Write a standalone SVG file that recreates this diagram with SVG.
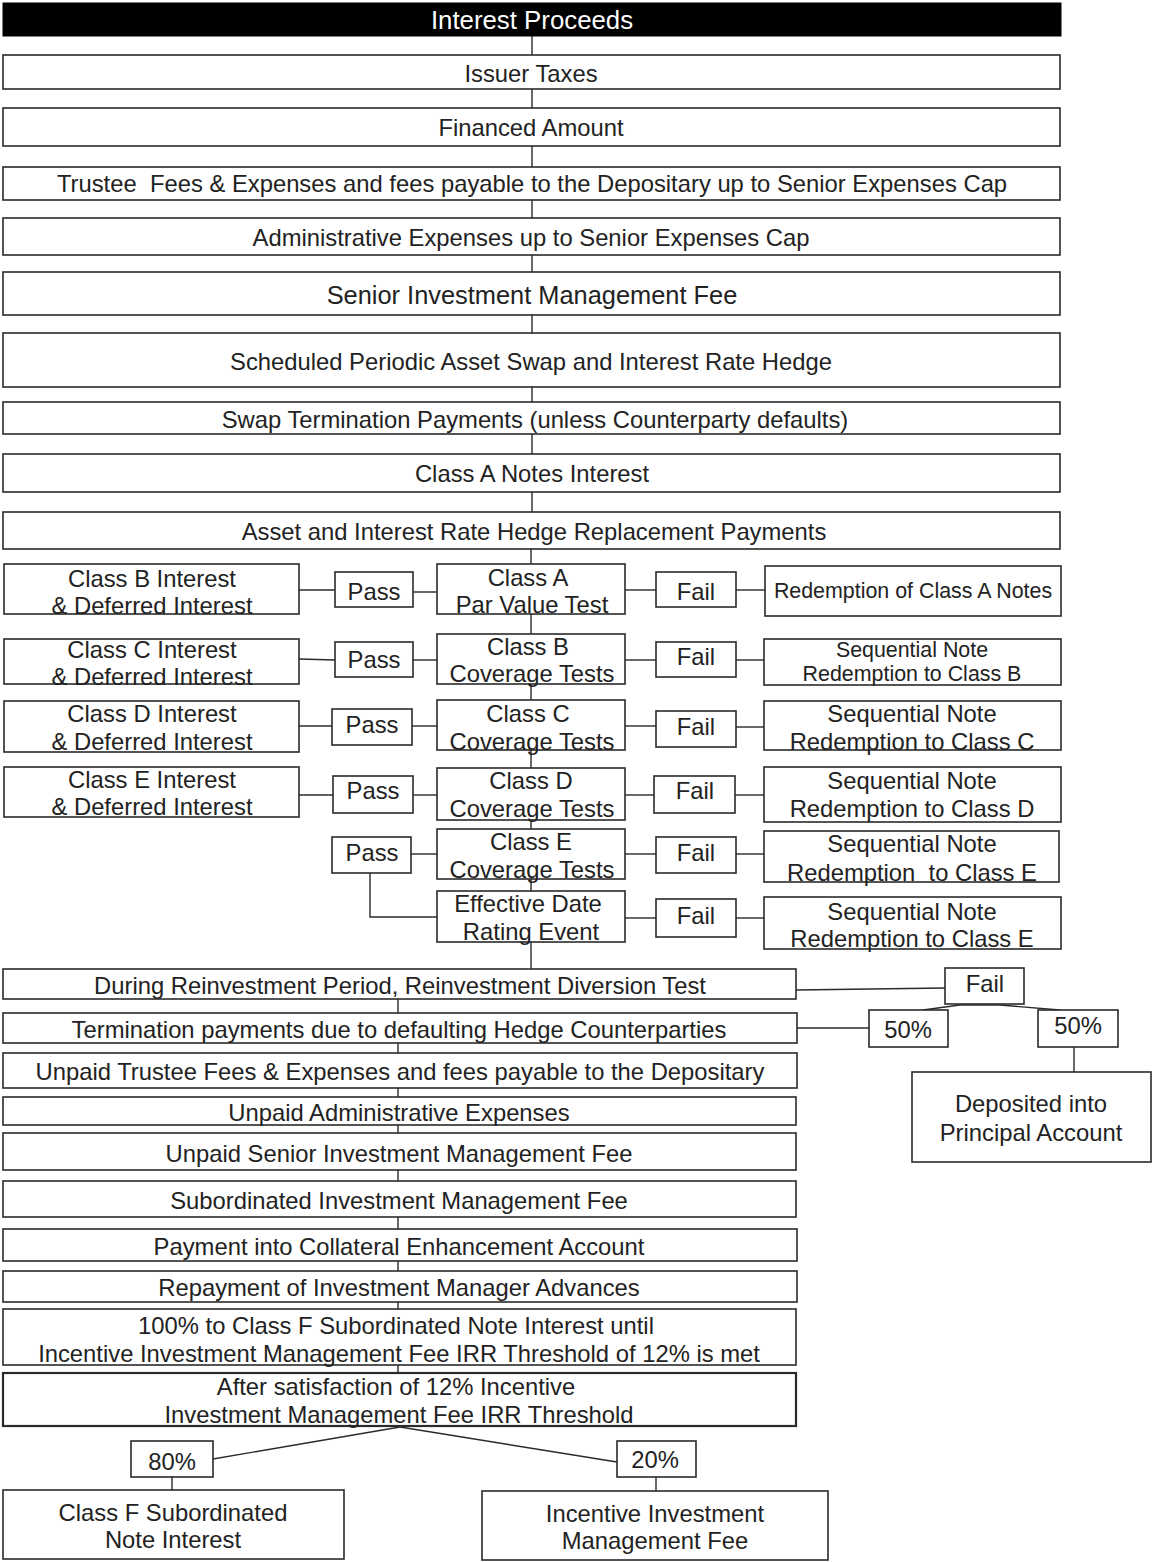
<svg xmlns="http://www.w3.org/2000/svg" width="1152" height="1562" viewBox="0 0 1152 1562">
<style>
rect.b{fill:#fff;stroke:#2a2a2a;stroke-width:1.6}
rect.k{fill:#000;stroke:#000}
text{font-family:"Liberation Sans",Arial,sans-serif;font-size:23.8px;fill:#222;text-anchor:middle;dominant-baseline:central}
text.w{fill:#fff;font-size:25.8px}
text.l{font-size:25.4px}
text.s{font-size:21.4px}
#connectors line,#connectors polyline{stroke:#2a2a2a;stroke-width:1.4;fill:none}
</style>
<rect width="1152" height="1562" fill="#fff"/>
<g id="connectors">
<line x1="532" y1="36" x2="532" y2="549"/>
<line x1="531" y1="549" x2="531" y2="969"/>
<line x1="299" y1="590" x2="335" y2="590"/>
<line x1="413" y1="592" x2="437" y2="592"/>
<line x1="625" y1="590" x2="656" y2="590"/>
<line x1="736" y1="590" x2="765" y2="590"/>
<line x1="299" y1="659" x2="335" y2="660"/>
<line x1="413" y1="660" x2="437" y2="660"/>
<line x1="625" y1="660" x2="656" y2="660"/>
<line x1="736" y1="660" x2="764" y2="660"/>
<line x1="299" y1="726" x2="332" y2="726"/>
<line x1="412" y1="726" x2="437" y2="726"/>
<line x1="625" y1="726" x2="656" y2="726"/>
<line x1="736" y1="727" x2="764" y2="727"/>
<line x1="299" y1="795" x2="333" y2="795"/>
<line x1="413" y1="795" x2="437" y2="795"/>
<line x1="625" y1="795" x2="654" y2="795"/>
<line x1="735" y1="795" x2="764" y2="795"/>
<line x1="411" y1="854" x2="437" y2="854"/>
<line x1="625" y1="854" x2="656" y2="854"/>
<line x1="736" y1="854" x2="764" y2="854"/>
<polyline points="370,873 370,917 437,917"/>
<line x1="625" y1="918" x2="656" y2="918"/>
<line x1="736" y1="918" x2="764" y2="918"/>
<line x1="398" y1="999" x2="398" y2="1373"/>
<line x1="796" y1="990" x2="945" y2="988"/>
<line x1="797" y1="1028" x2="869" y2="1028"/>
<polyline points="923,1010 960,1005 1000,1005 1060,1010"/>
<line x1="1074" y1="1047" x2="1074" y2="1072"/>
<line x1="400" y1="1427" x2="213" y2="1459"/>
<line x1="400" y1="1427" x2="617" y2="1462"/>
<line x1="172" y1="1477" x2="172" y2="1490"/>
<line x1="656" y1="1477" x2="656" y2="1491"/>
</g>
<g id="n-interest-proceeds"><rect class="k" x="3" y="3" width="1058" height="33"/><text class="w" x="532" y="20">Interest Proceeds</text></g>
<g id="n-issuer-taxes"><rect class="b" x="3" y="55" width="1057" height="34"/><text x="531" y="73">Issuer Taxes</text></g>
<g id="n-financed"><rect class="b" x="3" y="108" width="1057" height="38"/><text x="531" y="127">Financed Amount</text></g>
<g id="n-trustee"><rect class="b" x="3" y="167" width="1057" height="33"/><text x="532" y="183" xml:space="preserve">Trustee  Fees &amp; Expenses and fees payable to the Depositary up to Senior Expenses Cap</text></g>
<g id="n-admin"><rect class="b" x="3" y="218" width="1057" height="37"/><text x="531" y="237">Administrative Expenses up to Senior Expenses Cap</text></g>
<g id="n-senior-fee"><rect class="b" x="3" y="272" width="1057" height="43"/><text class="l" x="532" y="295">Senior Investment Management Fee</text></g>
<g id="n-scheduled"><rect class="b" x="3" y="333" width="1057" height="54"/><text x="531" y="361">Scheduled Periodic Asset Swap and Interest Rate Hedge</text></g>
<g id="n-swap-term"><rect class="b" x="3" y="402" width="1057" height="32"/><text x="535" y="419">Swap Termination Payments (unless Counterparty defaults)</text></g>
<g id="n-class-a-interest"><rect class="b" x="3" y="454" width="1057" height="38"/><text x="532" y="473">Class A Notes Interest</text></g>
<g id="n-hedge-replacement"><rect class="b" x="3" y="512" width="1057" height="37"/><text x="534" y="531">Asset and Interest Rate Hedge Replacement Payments</text></g>

<g id="n-classb-int"><rect class="b" x="4" y="564" width="295" height="50"/><text x="152" y="578">Class B Interest</text><text x="152" y="605">&amp; Deferred Interest</text></g>
<g id="n-pass1"><rect class="b" x="335" y="572" width="78" height="35"/><text x="374" y="591">Pass</text></g>
<g id="n-classa-par"><rect class="b" x="437" y="564" width="188" height="50"/><text x="528" y="577">Class A</text><text x="532" y="604">Par Value Test</text></g>
<g id="n-fail1"><rect class="b" x="656" y="572" width="80" height="35"/><text x="696" y="591">Fail</text></g>
<g id="n-redeem-a"><rect class="b" x="765" y="566" width="296" height="50"/><text class="s" x="913" y="591">Redemption of Class A Notes</text></g>

<g id="n-classc-int"><rect class="b" x="4" y="639" width="295" height="45"/><text x="152" y="649">Class C Interest</text><text x="152" y="676">&amp; Deferred Interest</text></g>
<g id="n-pass2"><rect class="b" x="335" y="642" width="78" height="35"/><text x="374" y="659">Pass</text></g>
<g id="n-classb-cov"><rect class="b" x="437" y="634" width="188" height="50"/><text x="528" y="646">Class B</text><text x="532" y="673">Coverage Tests</text></g>
<g id="n-fail2"><rect class="b" x="656" y="642" width="80" height="35"/><text x="696" y="656">Fail</text></g>
<g id="n-seq-b"><rect class="b" x="764" y="639" width="297" height="46"/><text class="s" x="912" y="650">Sequential Note</text><text class="s" x="912" y="674">Redemption to Class B</text></g>

<g id="n-classd-int"><rect class="b" x="4" y="701" width="295" height="51"/><text x="152" y="713">Class D Interest</text><text x="152" y="741">&amp; Deferred Interest</text></g>
<g id="n-pass3"><rect class="b" x="332" y="709" width="80" height="36"/><text x="372" y="724">Pass</text></g>
<g id="n-classc-cov"><rect class="b" x="437" y="700" width="188" height="50"/><text x="528" y="713">Class C</text><text x="532" y="741">Coverage Tests</text></g>
<g id="n-fail3"><rect class="b" x="656" y="711" width="80" height="36"/><text x="696" y="726">Fail</text></g>
<g id="n-seq-c"><rect class="b" x="764" y="701" width="297" height="49"/><text x="912" y="713">Sequential Note</text><text x="912" y="741">Redemption to Class C</text></g>

<g id="n-classe-int"><rect class="b" x="4" y="767" width="295" height="50"/><text x="152" y="779">Class E Interest</text><text x="152" y="806">&amp; Deferred Interest</text></g>
<g id="n-pass4"><rect class="b" x="333" y="776" width="80" height="37"/><text x="373" y="790">Pass</text></g>
<g id="n-classd-cov"><rect class="b" x="437" y="768" width="188" height="52"/><text x="531" y="780">Class D</text><text x="532" y="808">Coverage Tests</text></g>
<g id="n-fail4"><rect class="b" x="654" y="776" width="81" height="37"/><text x="695" y="790">Fail</text></g>
<g id="n-seq-d"><rect class="b" x="764" y="767" width="297" height="55"/><text x="912" y="780">Sequential Note</text><text x="912" y="808">Redemption to Class D</text></g>

<g id="n-pass5"><rect class="b" x="332" y="837" width="79" height="36"/><text x="372" y="852">Pass</text></g>
<g id="n-classe-cov"><rect class="b" x="437" y="829" width="188" height="50"/><text x="531" y="841">Class E</text><text x="532" y="869">Coverage Tests</text></g>
<g id="n-fail5"><rect class="b" x="656" y="837" width="80" height="36"/><text x="696" y="852">Fail</text></g>
<g id="n-seq-e"><rect class="b" x="764" y="831" width="295" height="51"/><text x="912" y="843">Sequential Note</text><text x="912" y="872" xml:space="preserve">Redemption  to Class E</text></g>

<g id="n-effective-date"><rect class="b" x="437" y="891" width="188" height="51"/><text x="528" y="903">Effective Date</text><text x="531" y="931">Rating Event</text></g>
<g id="n-fail6"><rect class="b" x="656" y="899" width="80" height="38"/><text x="696" y="915">Fail</text></g>
<g id="n-seq-e2"><rect class="b" x="764" y="897" width="297" height="52"/><text x="912" y="911">Sequential Note</text><text x="912" y="938">Redemption to Class E</text></g>

<g id="n-reinvest-div"><rect class="b" x="3" y="969" width="793" height="30"/><text x="400" y="985">During Reinvestment Period, Reinvestment Diversion Test</text></g>
<g id="n-term-default"><rect class="b" x="3" y="1013" width="794" height="30"/><text x="399" y="1029">Termination payments due to defaulting Hedge Counterparties</text></g>
<g id="n-unpaid-trustee"><rect class="b" x="3" y="1053" width="794" height="35"/><text x="400" y="1071">Unpaid Trustee Fees &amp; Expenses and fees payable to the Depositary</text></g>
<g id="n-unpaid-admin"><rect class="b" x="3" y="1097" width="793" height="28"/><text x="399" y="1112">Unpaid Administrative Expenses</text></g>
<g id="n-unpaid-senior"><rect class="b" x="3" y="1133" width="793" height="37"/><text x="399" y="1153">Unpaid Senior Investment Management Fee</text></g>
<g id="n-sub-fee"><rect class="b" x="3" y="1181" width="793" height="36"/><text x="399" y="1200">Subordinated Investment Management Fee</text></g>
<g id="n-collateral"><rect class="b" x="3" y="1229" width="794" height="32"/><text x="399" y="1246">Payment into Collateral Enhancement Account</text></g>
<g id="n-repayment"><rect class="b" x="3" y="1271" width="794" height="31"/><text x="399" y="1287">Repayment of Investment Manager Advances</text></g>
<g id="n-class-f-until"><rect class="b" x="3" y="1309" width="793" height="56"/><text x="396" y="1325">100% to Class F Subordinated Note Interest until</text><text x="399" y="1353">Incentive Investment Management Fee IRR Threshold of 12% is met</text></g>
<g id="n-after"><rect class="b" x="3" y="1373" width="793" height="53" style="stroke-width:2.2"/><text x="396" y="1386">After satisfaction of 12% Incentive</text><text x="399" y="1414">Investment Management Fee IRR Threshold</text></g>

<g id="n-fail7"><rect class="b" x="945" y="968" width="79" height="36"/><text x="985" y="983">Fail</text></g>
<g id="n-50a"><rect class="b" x="869" y="1010" width="79" height="37"/><text x="908" y="1029">50%</text></g>
<g id="n-50b"><rect class="b" x="1038" y="1010" width="80" height="37"/><text x="1078" y="1025">50%</text></g>
<g id="n-deposited"><rect class="b" x="912" y="1072" width="239" height="90"/><text x="1031" y="1103">Deposited into</text><text x="1031" y="1132">Principal Account</text></g>

<g id="n-80"><rect class="b" x="131" y="1441" width="82" height="36"/><text x="172" y="1461">80%</text></g>
<g id="n-20"><rect class="b" x="617" y="1441" width="79" height="36"/><text x="655" y="1459">20%</text></g>
<g id="n-class-f"><rect class="b" x="3" y="1490" width="341" height="69"/><text x="173" y="1512">Class F Subordinated</text><text x="173" y="1539">Note Interest</text></g>
<g id="n-incentive"><rect class="b" x="482" y="1491" width="346" height="69"/><text x="655" y="1513">Incentive Investment</text><text x="655" y="1540">Management Fee</text></g>
</svg>
